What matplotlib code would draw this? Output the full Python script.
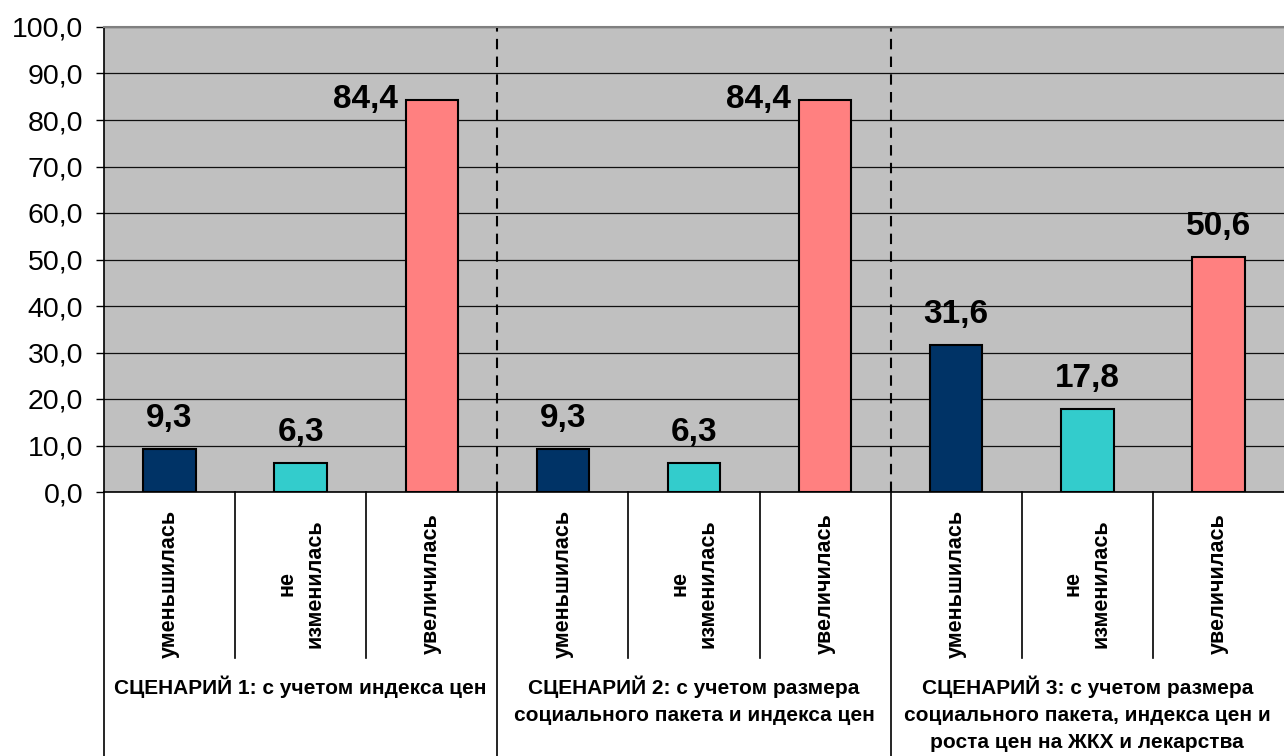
import matplotlib
matplotlib.use("Agg")
import matplotlib.pyplot as plt

plt.rcParams["font.family"] = ["Liberation Sans", "DejaVu Sans"]

# data
categories = ["уменьшилась", "не\nизменилась", "увеличилась"]
scenarios = [
    "СЦЕНАРИЙ 1: с учетом индекса цен",
    "СЦЕНАРИЙ 2: с учетом размера\nсоциального пакета и индекса цен",
    "СЦЕНАРИЙ 3: с учетом размера\nсоциального пакета, индекса цен и\nроста цен на ЖКХ и лекарства",
]
scenario1 = [9.3, 6.3, 84.4]
scenario2 = [9.3, 6.3, 84.4]
scenario3 = [31.6, 17.8, 50.6]
yticks = [0, 10, 20, 30, 40, 50, 60, 70, 80, 90, 100]

colors = ["#003366", "#33CCCC", "#FF8080"]

W, H = 1284, 756
fig = plt.figure(figsize=(W / 100, H / 100), dpi=100)
left_px, right_px, top_px, bottom_px = 104, 1284, 27, 492
ax = fig.add_axes([left_px / W, 1 - bottom_px / H,
                   (right_px - left_px) / W, (bottom_px - top_px) / H])
ax.set_facecolor("#C0C0C0")


def yfrac(py):
    # pixel row -> axes fraction (for the table under the plot)
    return (bottom_px - py) / (bottom_px - top_px)


values = scenario1 + scenario2 + scenario3
ncat = len(categories)
xs = list(range(len(values)))
bar_colors = colors * len(scenarios)

ax.set_xlim(-0.5, len(values) - 0.5)
ax.set_ylim(0, 100)
ax.set_yticks(yticks)
ax.set_yticklabels([f"{v:.1f}".replace(".", ",") for v in yticks], fontsize=20.5)
ax.tick_params(axis="y", length=6, width=1, pad=9)
ax.set_xticks([])
ax.grid(axis="y", color="#101010", lw=0.9)
ax.set_axisbelow(True)

for s in ("right", "bottom"):
    ax.spines[s].set_visible(False)
ax.spines["top"].set_color("#808080")
ax.spines["top"].set_linewidth(1.5)
ax.spines["left"].set_linewidth(1.2)

ax.bar(xs, values, width=0.4, color=bar_colors, edgecolor="black", lw=1.5, zorder=3)

for x, v in zip(xs, values):
    if v > 80:
        off = (-48, 0)
    else:
        off = (0, 22)
    ax.annotate(f"{v:.1f}".replace(".", ","), (x, v), xytext=off,
                textcoords="offset points", ha="center", va="center",
                fontsize=24, fontweight="bold", zorder=4)

xt = ax.get_xaxis_transform()
# bottom axis line drawn across the table width
ax.plot([-0.5, len(values) - 0.5], [0, 0], transform=xt, color="black",
        lw=1.2, clip_on=False, zorder=5)

# group separators: dashed inside the plot, solid in the table
for g in range(1, len(scenarios)):
    xb = g * ncat - 0.5
    ax.plot([xb, xb], [0, 1], transform=xt, color="black", lw=1.5,
            ls=(0, (5, 3.5)), zorder=2)
    ax.plot([xb, xb], [0, yfrac(H)], transform=xt, color="black", lw=1.2,
            clip_on=False)
ax.plot([-0.5, -0.5], [0, yfrac(H)], transform=xt, color="black", lw=1.2,
        clip_on=False)

# category separators
for i in range(len(values)):
    if i % ncat != 0:
        ax.plot([i - 0.5, i - 0.5], [0, yfrac(658)], transform=xt,
                color="black", lw=1.2, clip_on=False)

# category labels
for x in xs:
    ax.text(x, yfrac(584), categories[x % ncat], transform=xt, rotation=90,
            ha="center", va="center", fontsize=15.5, fontweight="bold",
            linespacing=1.45, multialignment="center")

# scenario labels
for g, name in enumerate(scenarios):
    xc = g * ncat + (ncat - 1) / 2
    ax.text(xc, yfrac(676), name, transform=xt, ha="center", va="top",
            fontsize=15, fontweight="bold", linespacing=1.52)

fig.savefig("out.png", dpi=100)
